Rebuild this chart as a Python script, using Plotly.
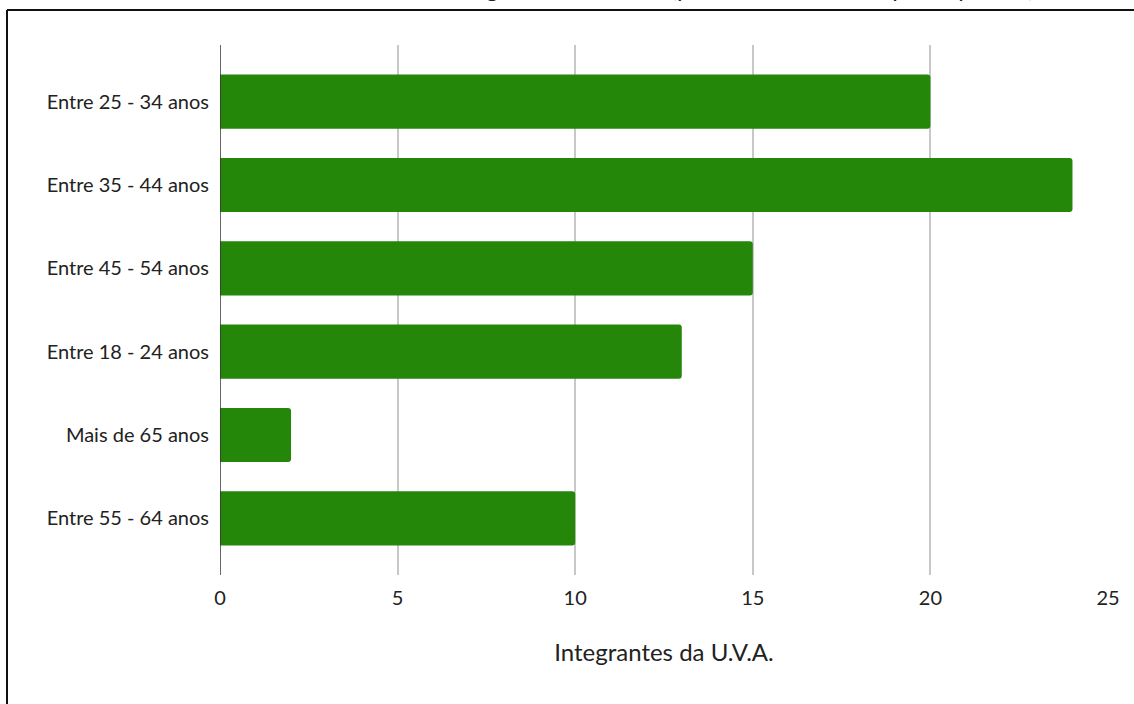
import plotly.graph_objects as go

categories = ["Entre 25 - 34 anos", "Entre 35 - 44 anos", "Entre 45 - 54 anos",
              "Entre 18 - 24 anos", "Mais de 65 anos", "Entre 55 - 64 anos"]
values = [20, 24, 15, 13, 2, 10]
x_ticks = [0, 5, 10, 15, 20, 25]
title_text = "Faixa etária dos integrantes da U.V.A. (por número total de participantes)"
x_title = "Integrantes da U.V.A."

W, H = 1134, 704
L, R, T, B = 220, 26, 45, 129
pw, ph = W - L - R, H - T - B

def px(x):
    return (x - L) / pw

def py(y):
    return (H - B - y) / ph

FONT = "Lato"

fig = go.Figure(go.Bar(
    y=categories, x=values, orientation="h",
    marker=dict(color="#24870a", line=dict(width=0)),
))

fig.update_layout(
    width=W, height=H,
    margin=dict(l=L, r=R, t=T, b=B, autoexpand=False),
    plot_bgcolor="white", paper_bgcolor="white",
    bargap=0.35, barcornerradius=3,
    showlegend=False,
    font=dict(family=FONT, size=20, color="#222222"),
    xaxis=dict(range=[0, 25], tickvals=x_ticks, showgrid=True, gridcolor="#c8c8c8",
               gridwidth=1.5, zeroline=False, showline=False, ticklabelstandoff=9,
               title=dict(text=x_title, font=dict(size=24), standoff=36),
               tickfont=dict(size=20)),
    yaxis=dict(categoryorder="array", categoryarray=categories, autorange=False,
               range=[5.68, -0.68], showgrid=False, zeroline=False, showline=False,
               ticklabelstandoff=10, tickfont=dict(size=20)),
    shapes=[
        dict(type="line", xref="x", yref="paper", x0=0, x1=0, y0=0, y1=1,
             line=dict(color="#333333", width=1.5)),
        dict(type="line", xref="paper", yref="paper", x0=px(7), x1=px(7), y0=py(704), y1=py(10),
             line=dict(color="#111111", width=2)),
        dict(type="line", xref="paper", yref="paper", x0=px(7), x1=px(1134), y0=py(10), y1=py(10),
             line=dict(color="#111111", width=2)),
    ],
    annotations=[dict(text=title_text, xref="paper", yref="paper", x=px(1036), y=py(4),
                      xanchor="right", yanchor="bottom", showarrow=False,
                      font=dict(size=24, family=FONT, color="#222222"))],
)

fig.write_html("out.html")
